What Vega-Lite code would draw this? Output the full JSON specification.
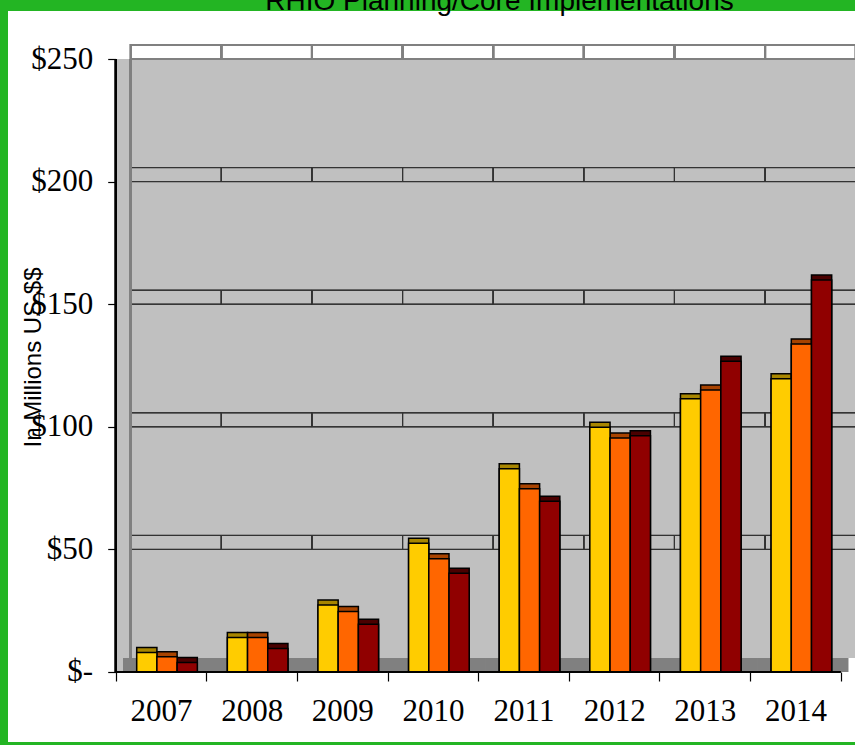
{
  "$schema": "https://vega.github.io/schema/vega-lite/v6.json",
  "width": 847,
  "height": 731,
  "autosize": {"type": "none"},
  "padding": {"left": 8, "top": 11, "right": 0, "bottom": 3},
  "background": "#23b523",
  "config": {"view": {"fill": "white", "stroke": null}, "font": "Liberation Sans"},
  "title": {"text": "RHIO Planning/Core Implementations", "anchor": "middle", "frame": "group", "offset": -27, "dx": 68, "fontSize": 28, "fontWeight": "normal", "font": "Liberation Sans", "color": "black", "baseline": "alphabetic"},
  "data": {"values": [
    {"year": "2007", "size": "Small RHIOs", "value": 6.3},
    {"year": "2007", "size": "Medium RHIOs", "value": 4.6},
    {"year": "2007", "size": "Large RHIOs", "value": 2.2},
    {"year": "2008", "size": "Small RHIOs", "value": 12.4},
    {"year": "2008", "size": "Medium RHIOs", "value": 12.4},
    {"year": "2008", "size": "Large RHIOs", "value": 8.0},
    {"year": "2009", "size": "Small RHIOs", "value": 25.7},
    {"year": "2009", "size": "Medium RHIOs", "value": 23.0},
    {"year": "2009", "size": "Large RHIOs", "value": 17.8},
    {"year": "2010", "size": "Small RHIOs", "value": 50.9},
    {"year": "2010", "size": "Medium RHIOs", "value": 44.6},
    {"year": "2010", "size": "Large RHIOs", "value": 38.6},
    {"year": "2011", "size": "Small RHIOs", "value": 81.3},
    {"year": "2011", "size": "Medium RHIOs", "value": 73.1},
    {"year": "2011", "size": "Large RHIOs", "value": 68.0},
    {"year": "2012", "size": "Small RHIOs", "value": 98.2},
    {"year": "2012", "size": "Medium RHIOs", "value": 93.8},
    {"year": "2012", "size": "Large RHIOs", "value": 94.7},
    {"year": "2013", "size": "Small RHIOs", "value": 109.8},
    {"year": "2013", "size": "Medium RHIOs", "value": 113.4},
    {"year": "2013", "size": "Large RHIOs", "value": 125.1},
    {"year": "2014", "size": "Small RHIOs", "value": 118.0},
    {"year": "2014", "size": "Medium RHIOs", "value": 132.1},
    {"year": "2014", "size": "Large RHIOs", "value": 158.2}
  ]},
  "encoding": {
    "x": {
      "field": "year", "type": "nominal",
      "scale": {"paddingInner": 0, "paddingOuter": 0.6731, "align": 0.8828},
      "axis": {"orient": "bottom", "offset": -70, "domain": false, "grid": false, "tickBand": "extent", "tickSize": 9, "tickColor": "black", "tickWidth": 1.2, "labelFont": "Liberation Sans Narrow", "labelFontSize": 31, "labelColor": "black", "labelPadding": 15, "labelAngle": 0, "title": null}
    }
  },
  "layer": [
    {
      "mark": {"type": "rect", "fill": "#c0c0c0"},
      "encoding": {
        "y": {"datum": 0, "type": "quantitative", "scale": {"domain": [-28.55, 269.58], "nice": false, "zero": false}},
        "y2": {"datum": 250}
      }
    },
    {
      "mark": {"type": "rect", "fill": "#c0c0c0", "xOffset": 15, "yOffset": -14},
      "encoding": {"y": {"datum": 0, "type": "quantitative"}, "y2": {"datum": 250}}
    },
    {
      "mark": {"type": "rect", "fill": "#808080", "xOffset": 7.5},
      "encoding": {"y": {"datum": 0, "type": "quantitative"}, "y2": {"datum": 5.7}}
    },
    {
      "mark": {"type": "rect", "fill": null, "stroke": "#333333", "strokeWidth": 1, "xOffset": 15, "yOffset": -14},
      "encoding": {"y": {"datum": 50, "type": "quantitative"}, "y2": {"datum": 50}}
    },
    {
      "mark": {"type": "rect", "fill": null, "stroke": "#333333", "strokeWidth": 1, "xOffset": 15, "yOffset": -14},
      "encoding": {"y": {"datum": 100, "type": "quantitative"}, "y2": {"datum": 100}}
    },
    {
      "mark": {"type": "rect", "fill": null, "stroke": "#333333", "strokeWidth": 1, "xOffset": 15, "yOffset": -14},
      "encoding": {"y": {"datum": 150, "type": "quantitative"}, "y2": {"datum": 150}}
    },
    {
      "mark": {"type": "rect", "fill": null, "stroke": "#333333", "strokeWidth": 1, "xOffset": 15, "yOffset": -14},
      "encoding": {"y": {"datum": 200, "type": "quantitative"}, "y2": {"datum": 200}}
    },
    {
      "mark": {"type": "rect", "fill": null, "stroke": "#808080", "strokeWidth": 2, "xOffset": 15, "yOffset": -14},
      "encoding": {"y": {"datum": 250, "type": "quantitative"}, "y2": {"datum": 250}}
    },
    {
      "mark": {"type": "rule", "stroke": "#808080", "strokeWidth": 2, "xOffset": 15, "yOffset": -14},
      "encoding": {"x": {"datum": "2007", "bandPosition": 0}, "y": {"datum": 0, "type": "quantitative"}, "y2": {"datum": 250}}
    },
    {
      "mark": {"type": "bar", "stroke": "black", "strokeWidth": 1.5, "xOffset": 7, "yOffset": -9},
      "encoding": {
        "xOffset": {"field": "size", "type": "nominal", "scale": {"domain": ["Small RHIOs", "Medium RHIOs", "Large RHIOs"], "paddingInner": 0, "paddingOuter": 0.743, "align": 0.7}},
        "y": {"field": "value", "type": "quantitative"},
        "y2": {"datum": 0},
        "fill": {"field": "size", "type": "nominal", "scale": {"domain": ["Small RHIOs", "Medium RHIOs", "Large RHIOs"], "range": ["#a88600", "#a84300", "#4a0000"]}, "legend": null}
      }
    },
    {
      "mark": {"type": "bar", "stroke": "black", "strokeWidth": 1.5, "yOffset": -4},
      "encoding": {
        "xOffset": {"field": "size", "type": "nominal", "scale": {"domain": ["Small RHIOs", "Medium RHIOs", "Large RHIOs"], "paddingInner": 0, "paddingOuter": 0.743, "align": 0.7}},
        "y": {"field": "value", "type": "quantitative",
          "axis": {"orient": "left", "offset": -107.7, "domain": false, "grid": false, "values": [0, 50, 100, 150, 200, 250], "tickSize": 8, "tickColor": "black", "tickWidth": 1.2, "labelFont": "Liberation Sans Narrow", "labelFontSize": 31, "labelColor": "black", "labelPadding": 15, "labelExpr": "datum.value === 0 ? '$-\u00a0\u00a0\u00a0\u00a0' : '$' + datum.value", "title": "In Millions US $$", "titleFont": "Liberation Sans", "titleFontSize": 24, "titleFontWeight": "normal", "titleColor": "black", "titleX": -75, "titleY": 346, "titleAngle": -90, "titleAlign": "center", "titleBaseline": "alphabetic"}},
        "y2": {"datum": 0},
        "color": {"field": "size", "type": "nominal", "scale": {"domain": ["Small RHIOs", "Medium RHIOs", "Large RHIOs"], "range": ["#ffcc00", "#ff6600", "#900000"]},
          "legend": {"orient": "none", "legendX": 193.7, "legendY": 185.7, "title": null, "fillColor": "#c0c0c0", "strokeColor": "black", "strokeWidth": 1, "padding": 15.6, "symbolOffset": 34.7, "symbolType": "square", "symbolSize": 200, "symbolStrokeColor": "black", "symbolStrokeWidth": 1.5, "symbolOpacity": 1, "labelFont": "Liberation Sans", "labelFontSize": 21, "labelColor": "black", "labelOffset": 9, "rowPadding": 26, "labelLimit": 300}}
      }
    },
    {
      "mark": {"type": "rect", "fill": null, "stroke": "black", "strokeWidth": 1.5},
      "encoding": {"y": {"datum": 0, "type": "quantitative"}, "y2": {"datum": 0}}
    },
    {
      "mark": {"type": "rule", "stroke": "black", "strokeWidth": 1.5},
      "encoding": {"x": {"datum": "2007", "bandPosition": 0}, "y": {"datum": 0, "type": "quantitative"}, "y2": {"datum": 250}}
    }
  ]
}
